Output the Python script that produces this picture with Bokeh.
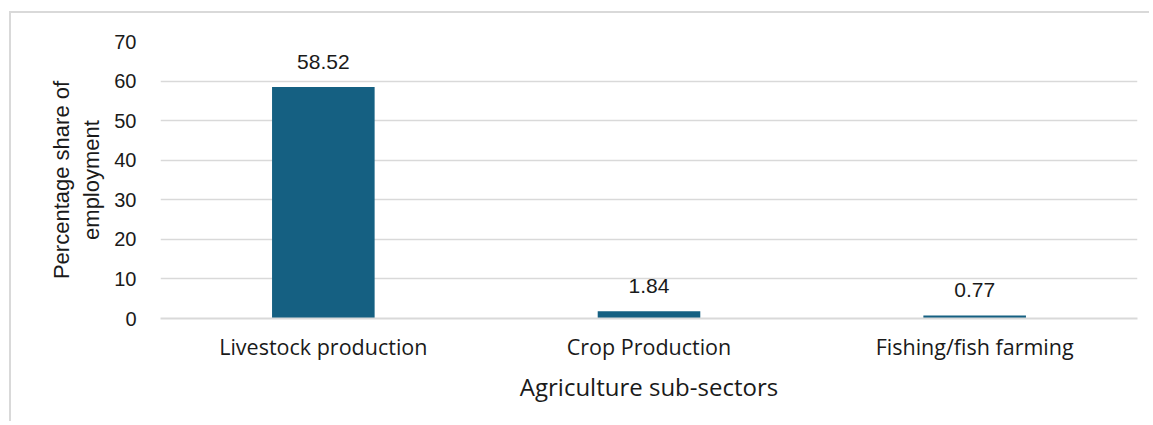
from bokeh.plotting import figure
from bokeh.models import ColumnDataSource, FactorRange, FixedTicker, Range1d
from bokeh.core.properties import value
from bokeh.embed import file_html
from bokeh.resources import INLINE

categories = ["Livestock production", "Crop Production", "Fishing/fish farming"]
shares = [58.52, 1.84, 0.77]
labels = ["58.52", "1.84", "0.77"]
y_ticks = [0, 10, 20, 30, 40, 50, 60, 70]

src = ColumnDataSource(dict(cat=categories, val=shares, lab=labels))

p = figure(
    x_range=FactorRange(*categories, range_padding=0),
    y_range=Range1d(0, 70),
    width=1140, height=410,
    output_backend="svg", toolbar_location=None,
    min_border_left=149, min_border_top=28, min_border_right=14, min_border_bottom=105,
)
p.styles = {"margin-left": "9px", "margin-top": "11px",
            "border-left": "2px solid #d9d9d9", "border-top": "2px solid #d9d9d9"}
p.outline_line_color = None
p.background_fill_color = "white"
p.border_fill_color = "white"

p.vbar(x="cat", top="val", width=0.315, source=src, color="#156082", line_color=None)
p.text(x="cat", y="val", text="lab", source=src, text_align="center", text_baseline="bottom",
       y_offset=-18, text_font=value("Liberation Sans"), text_font_size="21px", text_color="#1a1a1a")

p.xgrid.grid_line_color = None
p.ygrid.grid_line_color = "#d9d9d9"
p.ygrid.grid_line_width = 1.5
p.ygrid.ticker = FixedTicker(ticks=y_ticks)

p.yaxis.ticker = FixedTicker(ticks=y_ticks)
p.yaxis.axis_line_color = None
p.yaxis.major_tick_line_color = None
p.yaxis.minor_tick_line_color = None
p.yaxis.major_label_standoff = 18
p.yaxis.major_label_text_font = "Liberation Sans"
p.yaxis.major_label_text_font_size = "20px"
p.yaxis.major_label_text_color = "#1a1a1a"
p.yaxis.axis_label = "Percentage share of\nemployment"
p.yaxis.axis_label_text_font = "Liberation Sans"
p.yaxis.axis_label_text_font_style = "normal"
p.yaxis.axis_label_text_font_size = "22px"
p.yaxis.axis_label_text_color = "#1a1a1a"
p.yaxis.axis_label_standoff = 7

p.xaxis.axis_line_color = "#d9d9d9"
p.xaxis.axis_line_width = 2
p.xaxis.major_tick_line_color = None
p.xaxis.minor_tick_line_color = None
p.xaxis.major_label_standoff = 7
p.xaxis.major_label_text_font = "Open Sans"
p.xaxis.major_label_text_font_size = "21.5px"
p.xaxis.major_label_text_color = "#1a1a1a"
p.xaxis.axis_label = "Agriculture sub-sectors"
p.xaxis.axis_label_text_font = "Open Sans"
p.xaxis.axis_label_text_font_style = "normal"
p.xaxis.axis_label_text_font_size = "24px"
p.xaxis.axis_label_text_color = "#1a1a1a"
p.xaxis.axis_label_standoff = 6

open("out.html", "w").write(file_html(p, INLINE))
